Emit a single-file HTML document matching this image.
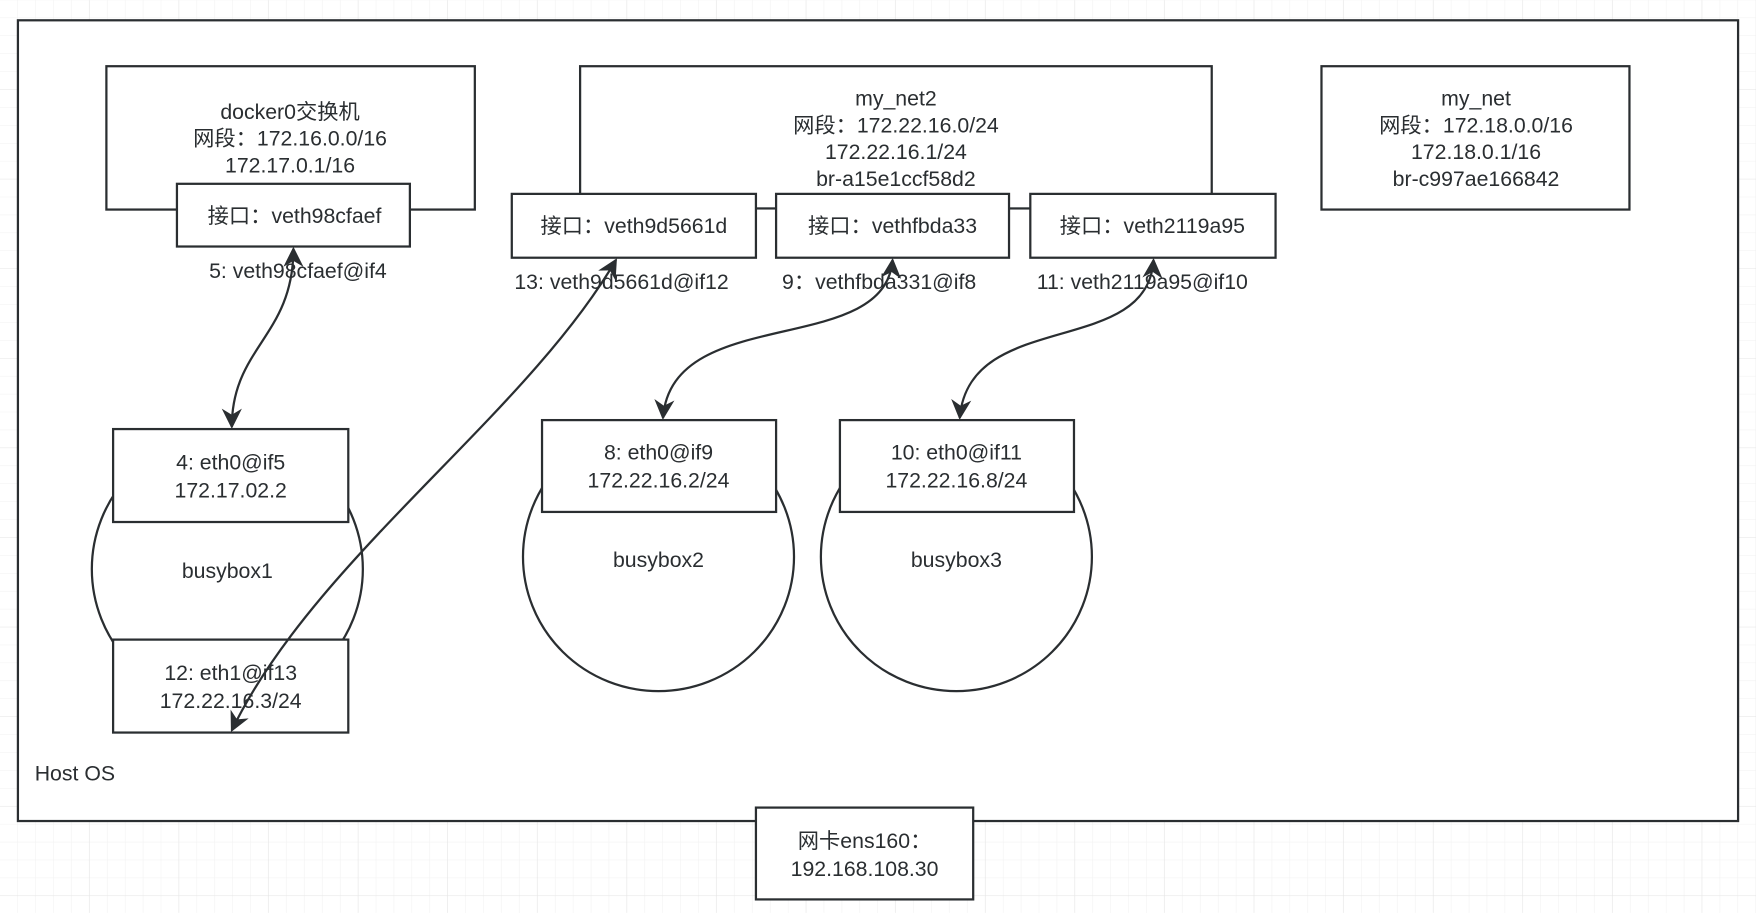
<!DOCTYPE html>
<html><head><meta charset="utf-8"><style>
html,body{margin:0;padding:0;background:#fff;}
svg{display:block;}
text{font-family:"Liberation Sans","Noto Sans CJK SC",sans-serif;font-size:19px;fill:#2a2e31;text-anchor:middle;}
</style></head><body>
<svg width="1756" height="913" viewBox="0 0 1568 815" xmlns="http://www.w3.org/2000/svg">
<defs>
<pattern id="g" width="16" height="16" patternUnits="userSpaceOnUse"><path d="M16 0V16M0 16H16" stroke="#f1f1f1" stroke-width="1" fill="none"/></pattern>
<pattern id="G" width="80" height="80" patternUnits="userSpaceOnUse"><rect width="80" height="80" fill="url(#g)"/><path d="M80 0V80M0 80H80" stroke="#e3e3e3" stroke-width="1" fill="none"/></pattern>
<marker id="a" viewBox="0 0 10 10" refX="9" refY="5" markerWidth="9" markerHeight="9" orient="auto-start-reverse"><path d="M0,0 L10,5 L0,10 L3,5 z" fill="#2a2e31"/></marker>
</defs>
<rect width="1568" height="815" fill="url(#G)"/>
<g fill="#fff" stroke="#2a2e31" stroke-width="2">
<rect x="16" y="18" width="1536" height="715"/>
<rect x="95" y="59" width="329" height="128"/>
<rect x="158" y="164" width="208" height="56"/>
<rect x="518" y="59" width="564" height="127"/>
<rect x="457" y="173" width="218" height="57"/>
<rect x="693" y="173" width="208" height="57"/>
<rect x="920" y="173" width="219" height="57"/>
<rect x="1180" y="59" width="275" height="128"/>
<ellipse cx="203" cy="508" rx="121" ry="121"/>
<ellipse cx="588" cy="497" rx="121" ry="120"/>
<ellipse cx="854" cy="497" rx="121" ry="120"/>
<rect x="101" y="383" width="210" height="83"/>
<rect x="101" y="571" width="210" height="83"/>
<rect x="484" y="375" width="209" height="82"/>
<rect x="750" y="375" width="209" height="82"/>
<rect x="675" y="721" width="194" height="82"/>
</g>
<g fill="none" stroke="#2a2e31" stroke-width="2" marker-start="url(#a)" marker-end="url(#a)">
<path d="M262,222 C262,300 207,310 207,381"/>
<path d="M550,232 C470,370 280,500 207,652"/>
<path d="M797,232 C790,320 600,270 592,373"/>
<path d="M1030,232 C1025,320 865,275 857,373"/>
</g>
<text x="259" y="106">docker0交换机</text>
<text x="259" y="130">网段：172.16.0.0/16</text>
<text x="259" y="154">172.17.0.1/16</text>
<text x="263" y="199">接口：veth98cfaef</text>
<text x="266" y="248">5: veth98cfaef@if4</text>
<text x="800" y="94">my_net2</text>
<text x="800" y="118">网段：172.22.16.0/24</text>
<text x="800" y="142">172.22.16.1/24</text>
<text x="800" y="166">br-a15e1ccf58d2</text>
<text x="566" y="208">接口：veth9d5661d</text>
<text x="797" y="208">接口：vethfbda33</text>
<text x="1029" y="208">接口：veth2119a95</text>
<text x="555" y="258">13: veth9d5661d@if12</text>
<text x="785" y="258">9：vethfbda331@if8</text>
<text x="1020" y="258">11: veth2119a95@if10</text>
<text x="1318" y="94">my_net</text>
<text x="1318" y="118">网段：172.18.0.0/16</text>
<text x="1318" y="142">172.18.0.1/16</text>
<text x="1318" y="166">br-c997ae166842</text>
<text x="206" y="419">4: eth0@if5</text>
<text x="206" y="444">172.17.02.2</text>
<text x="203" y="516">busybox1</text>
<text x="206" y="607">12: eth1@if13</text>
<text x="206" y="632">172.22.16.3/24</text>
<text x="588" y="410">8: eth0@if9</text>
<text x="588" y="435">172.22.16.2/24</text>
<text x="588" y="506">busybox2</text>
<text x="854" y="410">10: eth0@if11</text>
<text x="854" y="435">172.22.16.8/24</text>
<text x="854" y="506">busybox3</text>
<text x="31" y="697" style="text-anchor:start">Host OS</text>
<text x="772" y="757">网卡ens160：</text>
<text x="772" y="782">192.168.108.30</text>
</svg>
</body></html>
